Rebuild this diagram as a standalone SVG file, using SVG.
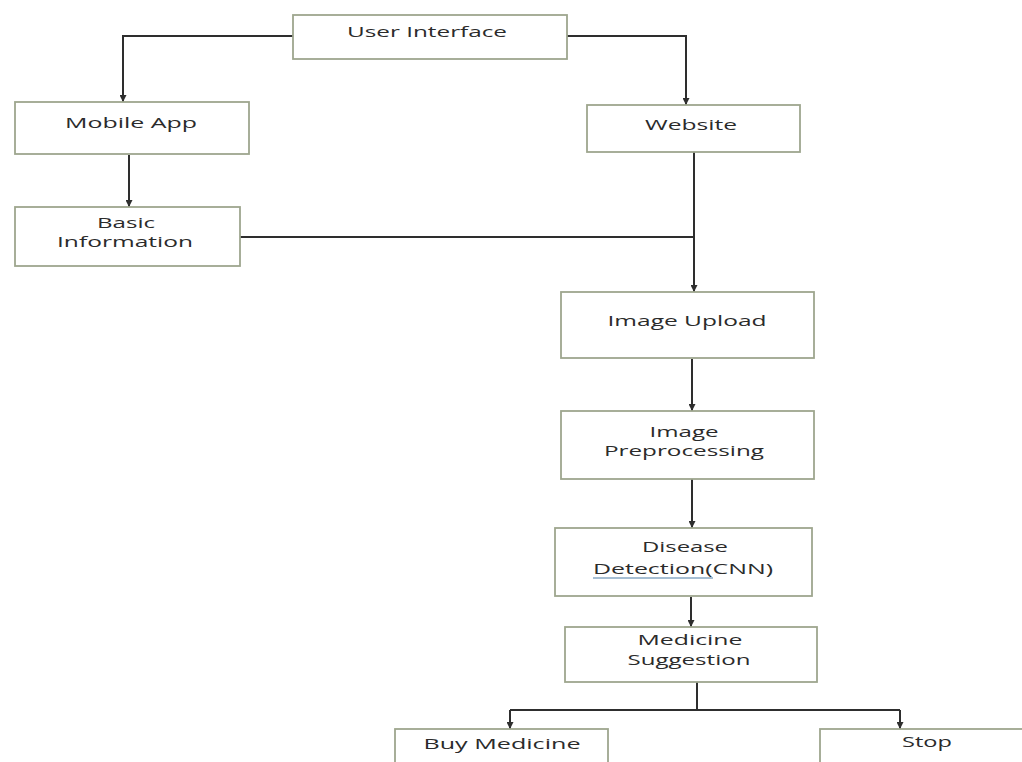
<svg xmlns="http://www.w3.org/2000/svg" width="1022" height="762" viewBox="0 0 1022 762">
<defs>
<style>
.box{fill:#ffffff;stroke:#9ea68e;stroke-width:1.8}
.t{font-family:"Open Sans","Liberation Sans",sans-serif;font-size:15px;fill:#2b2b2b;text-anchor:middle}
.c{fill:none;stroke:#2e2e2e;stroke-width:2}
</style>
<marker id="ah" viewBox="0 0 10 10" refX="10" refY="5" markerWidth="7" markerHeight="7" orient="auto" markerUnits="userSpaceOnUse">
<path d="M0,0 L10,5 L0,10 z" fill="#2e2e2e"/>
</marker>
</defs>
<rect width="1022" height="762" fill="#ffffff"/>
<g id="connectors">
<path class="c" d="M293,36 H123 V102" marker-end="url(#ah)"/>
<path class="c" d="M567,36 H686 V105" marker-end="url(#ah)"/>
<path class="c" d="M129,155 V207" marker-end="url(#ah)"/>
<path class="c" d="M240,237 H694"/>
<path class="c" d="M694,152 V292" marker-end="url(#ah)"/>
<path class="c" d="M692,359 V411" marker-end="url(#ah)"/>
<path class="c" d="M692,479 V528" marker-end="url(#ah)"/>
<path class="c" d="M691,597 V627" marker-end="url(#ah)"/>
<path class="c" d="M697,682 V710"/>
<path class="c" d="M510,710 H900"/>
<path class="c" d="M510,710 V729" marker-end="url(#ah)"/>
<path class="c" d="M900,710 V729" marker-end="url(#ah)"/>
</g>
<g id="user-interface">
<rect class="box" x="293" y="15" width="274" height="44"/>
<text class="t" x="427" y="37" textLength="160" lengthAdjust="spacingAndGlyphs">User Interface</text>
</g>
<g id="mobile-app">
<rect class="box" x="15" y="102" width="234" height="52"/>
<text class="t" x="131" y="128" textLength="132" lengthAdjust="spacingAndGlyphs">Mobile App</text>
</g>
<g id="basic-information">
<rect class="box" x="15" y="207" width="225" height="59"/>
<text class="t" x="126" y="228" textLength="58" lengthAdjust="spacingAndGlyphs">Basic</text>
<text class="t" x="125" y="247" textLength="136" lengthAdjust="spacingAndGlyphs">Information</text>
</g>
<g id="website">
<rect class="box" x="587" y="105" width="213" height="47"/>
<text class="t" x="691" y="130" textLength="92" lengthAdjust="spacingAndGlyphs">Website</text>
</g>
<g id="image-upload">
<rect class="box" x="561" y="292" width="253" height="66"/>
<text class="t" x="687" y="326" textLength="159" lengthAdjust="spacingAndGlyphs">Image Upload</text>
</g>
<g id="image-preprocessing">
<rect class="box" x="561" y="411" width="253" height="68"/>
<text class="t" x="684" y="437" textLength="69" lengthAdjust="spacingAndGlyphs">Image</text>
<text class="t" x="684" y="456" textLength="160" lengthAdjust="spacingAndGlyphs">Preprocessing</text>
</g>
<g id="disease-detection">
<rect class="box" x="555" y="528" width="257" height="68"/>
<text class="t" x="685" y="552" textLength="86" lengthAdjust="spacingAndGlyphs">Disease</text>
<text class="t" x="683" y="574" textLength="180" lengthAdjust="spacingAndGlyphs">Detection(CNN)</text>
<line x1="593" y1="578" x2="713" y2="578" stroke="#4f7fa8" stroke-width="1.2"/>
</g>
<g id="medicine-suggestion">
<rect class="box" x="565" y="627" width="252" height="55"/>
<text class="t" x="690" y="645" textLength="105" lengthAdjust="spacingAndGlyphs">Medicine</text>
<text class="t" x="689" y="665" textLength="123" lengthAdjust="spacingAndGlyphs">Suggestion</text>
</g>
<g id="buy-medicine">
<rect class="box" x="395" y="729" width="213" height="50"/>
<text class="t" x="502" y="749" textLength="157" lengthAdjust="spacingAndGlyphs">Buy Medicine</text>
</g>
<g id="stop">
<rect class="box" x="820" y="729" width="220" height="50"/>
<text class="t" x="927" y="747" textLength="50" lengthAdjust="spacingAndGlyphs">Stop</text>
</g>
</svg>
